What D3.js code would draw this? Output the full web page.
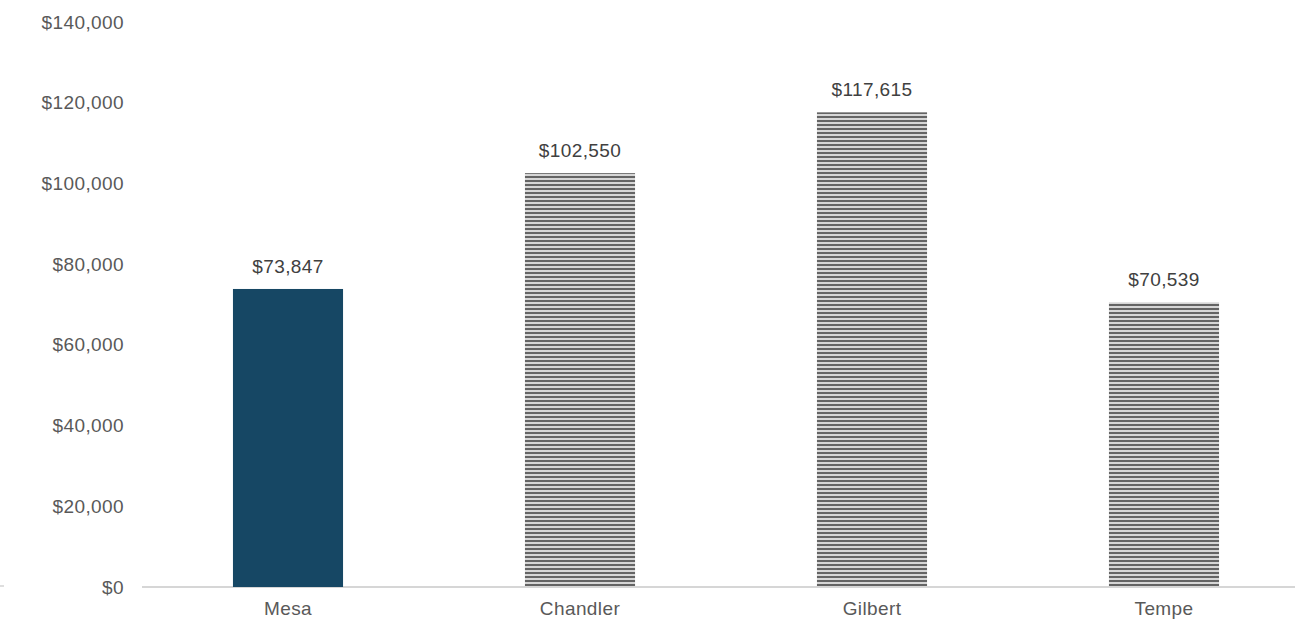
<!DOCTYPE html>
<html>
<head>
<meta charset="utf-8">
<script src="https://cdn.jsdelivr.net/npm/d3@7"></script>
<style>
  html, body { margin: 0; padding: 0; background: #ffffff; }
  svg { display: block; }
  text { font-family: "Liberation Sans", Arial, sans-serif; letter-spacing: 0.4px; }
</style>
</head>
<body>
<svg id="chart" width="1295" height="625"></svg>
<script>
// Median household income by city
const cities = ["Mesa", "Chandler", "Gilbert", "Tempe"];
const incomes = [73847, 102550, 117615, 70539];
const yTicks = [0, 20000, 40000, 60000, 80000, 100000, 120000, 140000];
const highlighted = ["Mesa"];

const svg = d3.select("#chart");
const W = 1295, H = 625;
const plot = { left: 142, right: 1310, top: 22, bottom: 587 };

// horizontal-stripe fill for the comparison cities
const defs = svg.append("defs");
const pat = defs.append("pattern")
  .attr("id", "stripes")
  .attr("patternUnits", "userSpaceOnUse")
  .attr("width", 8).attr("height", 4);
pat.append("rect").attr("width", 8).attr("height", 4).attr("fill", "#d6d6d6");
pat.append("rect").attr("width", 8).attr("height", 2).attr("fill", "#646464");

const x = d3.scaleBand()
  .domain(cities)
  .range([plot.left, plot.right])
  .paddingInner(0.623)
  .paddingOuter(0.3115);

const y = d3.scaleLinear()
  .domain([0, 140000])
  .range([plot.bottom, plot.top]);

const fmt = v => "$" + d3.format(",")(v);
const FS = "19px";

// y-axis labels (no axis line, no gridlines)
const yAxis = d3.axisLeft(y).tickValues(yTicks).tickFormat(fmt).tickSize(0).tickPadding(0);
const gy = svg.append("g").attr("transform", "translate(124,0)").call(yAxis);
gy.select(".domain").remove();
gy.selectAll("text")
  .attr("fill", "#595959")
  .style("font-size", FS)
  .style("font-family", "'Liberation Sans', Arial, sans-serif");

// baseline
svg.append("line")
  .attr("x1", plot.left).attr("x2", W)
  .attr("y1", y(0)).attr("y2", y(0))
  .attr("stroke", "#c8c8c8").attr("stroke-width", 1.5);

// small edge mark at the left of the baseline
svg.append("line")
  .attr("x1", 0).attr("x2", 4)
  .attr("y1", y(0) - 1).attr("y2", y(0) - 1)
  .attr("stroke", "#bdbdbd").attr("stroke-width", 1);

// bars
svg.selectAll("rect.bar")
  .data(cities)
  .join("rect")
  .attr("class", "bar")
  .attr("x", d => x(d))
  .attr("width", x.bandwidth())
  .attr("y", (d, i) => y(incomes[i]))
  .attr("height", (d, i) => y(0) - y(incomes[i]))
  .attr("fill", d => highlighted.includes(d) ? "#164764" : "url(#stripes)");

// value labels
svg.selectAll("text.val")
  .data(cities)
  .join("text")
  .attr("class", "val")
  .attr("x", d => x(d) + x.bandwidth() / 2)
  .attr("y", (d, i) => y(incomes[i]) - 16)
  .attr("text-anchor", "middle")
  .attr("fill", "#404040")
  .style("font-size", FS)
  .text((d, i) => fmt(incomes[i]));

// category labels
const xAxis = d3.axisBottom(x).tickSize(0).tickPadding(0);
const gx = svg.append("g").attr("transform", `translate(0,${y(0) + 14})`).call(xAxis);
gx.select(".domain").remove();
gx.selectAll("text")
  .attr("fill", "#595959")
  .style("font-size", FS)
  .style("font-family", "'Liberation Sans', Arial, sans-serif");
</script>
</body>
</html>
